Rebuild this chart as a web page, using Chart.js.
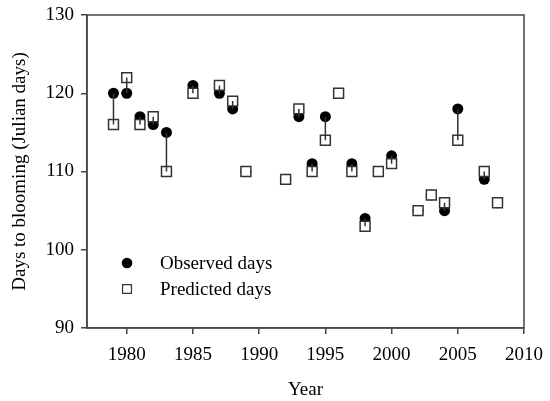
<!DOCTYPE html>
<html>
<head>
<meta charset="utf-8">
<script src="https://cdn.jsdelivr.net/npm/chart.js@4.4.0/dist/chart.umd.min.js"></script>
<style>
    html, body { margin: 0; padding: 0; background: #fff; }
    #wrap { width: 550px; height: 401px; }
</style>
</head>
<body>
<div id="wrap"><canvas id="bloomChart"></canvas></div>
<script>
// Blooming dates per year
const years     = [1979, 1980, 1981, 1982, 1983, 1985, 1987, 1988, 1989, 1992, 1993, 1994,
                   1995, 1996, 1997, 1998, 1999, 2000, 2002, 2003, 2004, 2005, 2007, 2008];
const observed  = [120, 120, 117, 116, 115, 121, 120, 118, 110, 109, 117, 111,
                   117, 120, 111, 104, 110, 112, 105, 107, 105, 118, 109, 106];
const predicted = [116, 122, 116, 117, 110, 120, 121, 119, 110, 109, 118, 110,
                   114, 120, 110, 103, 110, 111, 105, 107, 106, 114, 110, 106];
const xTicks = [1980, 1985, 1990, 1995, 2000, 2005, 2010];
const yTicks = [90, 100, 110, 120, 130];
const legendLabels = ['Observed days', 'Predicted days'];

const axisColor = '#444';
const serif = "'Liberation Serif', 'Times New Roman', serif";

// observed -> predicted connector segments, separated by gaps
const connectors = [];
years.forEach((yr, i) => {
    connectors.push({ x: yr, y: observed[i] });
    connectors.push({ x: yr, y: predicted[i] });
    connectors.push({ x: yr, y: null });
});

// box around the plot area
const framePlugin = {
    id: 'frame',
    afterDraw(chart) {
        const { ctx, chartArea: a } = chart;
        ctx.save();
        ctx.strokeStyle = axisColor;
        ctx.lineWidth = 1.5;
        ctx.strokeRect(a.left, a.top, a.right - a.left, a.bottom - a.top);
        ctx.restore();
    }
};

// legend inside the plot, lower left
const insideLegend = {
    id: 'insideLegend',
    afterDraw(chart) {
        const { ctx, chartArea: a } = chart;
        const mx = a.left + 40;
        const tx = a.left + 73;
        const rows = [a.top + 248, a.top + 274];
        const entries = legendLabels.map(l => chart.data.datasets.find(d => d.label === l));
        ctx.save();
        ctx.font = '19px ' + serif;
        ctx.textBaseline = 'middle';
        entries.forEach((ds, i) => {
            ctx.fillStyle = ds.backgroundColor;
            ctx.strokeStyle = ds.borderColor;
            ctx.lineWidth = ds.borderWidth ? 1.2 : 0;
            Chart.helpers.drawPoint(ctx, {
                pointStyle: ds.pointStyle,
                radius: ds.legendRadius,
                borderWidth: ds.borderWidth ? 1.2 : 0
            }, mx, rows[i]);
            ctx.fillStyle = '#000';
            ctx.fillText(ds.label, tx, rows[i] + 1);
        });
        ctx.restore();
    }
};

new Chart(document.getElementById('bloomChart'), {
    type: 'scatter',
    data: {
        datasets: [
            {
                label: 'connectors',
                type: 'line',
                data: connectors,
                borderColor: '#333',
                borderWidth: 1.5,
                pointRadius: 0,
                spanGaps: false,
                order: 0
            },
            {
                label: legendLabels[1],
                data: years.map((yr, i) => ({ x: yr, y: predicted[i] })),
                pointStyle: 'rect',
                pointRadius: 7,
                legendRadius: 6.3,
                backgroundColor: '#fff',
                borderColor: '#333',
                borderWidth: 1.5,
                order: 1
            },
            {
                label: legendLabels[0],
                data: years.map((yr, i) => ({ x: yr, y: observed[i] })),
                pointStyle: 'circle',
                pointRadius: 5.5,
                legendRadius: 5.3,
                backgroundColor: '#000',
                borderColor: '#000',
                borderWidth: 0,
                order: 2
            }
        ]
    },
    options: {
        responsive: true,
        maintainAspectRatio: false,
        animation: false,
        layout: { padding: { top: 15, right: 26, left: 0, bottom: 0 } },
        plugins: {
            legend: { display: false },
            tooltip: { enabled: false }
        },
        scales: {
            x: {
                type: 'linear',
                min: 1977,
                max: 2010,
                afterBuildTicks: s => { s.ticks = xTicks.map(v => ({ value: v })); },
                afterFit: s => { s.height = 73; s.paddingLeft = 0; s.paddingRight = 0; },
                border: { color: axisColor, width: 1.5 },
                grid: { drawOnChartArea: false, color: axisColor, tickLength: 6, lineWidth: 1.5 },
                ticks: {
                    color: '#000',
                    font: { family: serif, size: 19 },
                    padding: 10,
                    maxRotation: 0,
                    callback: v => String(v)
                },
                title: {
                    display: true,
                    text: 'Year',
                    color: '#000',
                    font: { family: serif, size: 19 },
                    padding: { top: 0, bottom: 0 }
                }
            },
            y: {
                min: 90,
                max: 130,
                afterBuildTicks: s => { s.ticks = yTicks.map(v => ({ value: v })); },
                afterFit: s => { s.width = 87; s.paddingTop = 0; s.paddingBottom = 0; },
                border: { color: axisColor, width: 1.5 },
                grid: { drawOnChartArea: false, color: axisColor, tickLength: 6, lineWidth: 1.5 },
                ticks: { color: '#000', font: { family: serif, size: 19 }, padding: 7, callback: v => String(v) },
                title: {
                    display: true,
                    text: 'Days to blooming (Julian days)',
                    color: '#000',
                    font: { family: serif, size: 19 },
                    padding: { top: 9, bottom: 0 }
                }
            }
        }
    },
    plugins: [framePlugin, insideLegend]
});
</script>
</body>
</html>
